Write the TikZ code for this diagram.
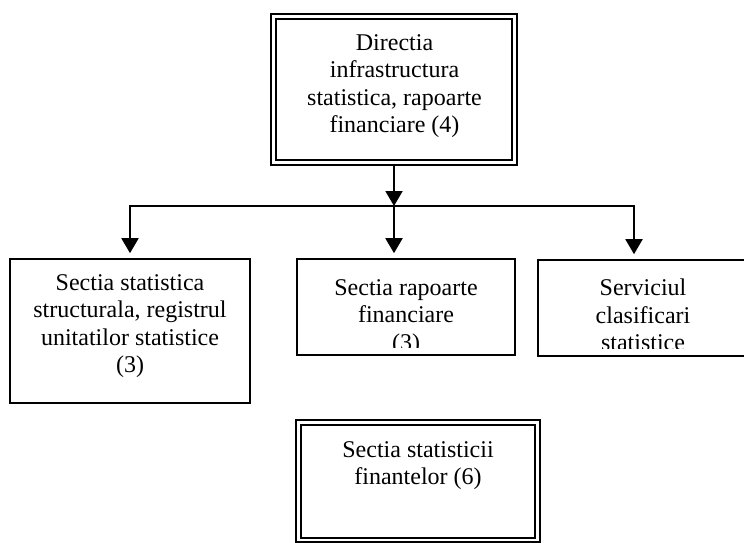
\documentclass[tikz,border=0pt]{standalone}
\usepackage{fontspec}
\setmainfont{Liberation Serif}
\usetikzlibrary{arrows.meta,positioning}
\tikzset{
  unit/.style={rectangle, draw=black, line width=1.6pt, fill=white, inner sep=0pt},
  dunit/.style={rectangle, draw=black, line width=2.2pt, double=white,
    double distance=2.2pt, inner sep=0pt},
  lbl/.style={anchor=north, align=center, inner sep=0pt,
    font=\fontsize{24}{27.5}\selectfont},
  link/.style={line width=1.9pt, draw=black},
  down/.style={link, -{Triangle[length=15pt, width=17pt]}},
}

\begin{document}
\begin{tikzpicture}[x=1pt, y=-1pt]
  \useasboundingbox (0,0) rectangle (744,542);
  % boxes
  \node[dunit, minimum width=241pt, minimum height=146pt] (dir) at (394,89.5) {};
  \node[unit, minimum width=240pt, minimum height=144pt] (struct) at (130,331) {};
  \node[unit, minimum width=218pt, minimum height=96pt] (rap) at (406,307) {};
  \node[unit, minimum width=210pt, minimum height=96pt] (clas) at (643,308) {};
  \node[dunit, minimum width=239pt, minimum height=117.5pt] (fin) at (418,481.25) {};
  % texts
  \node[lbl] (dirtxt) at (394.5,34) {Directia\\infrastructura\\statistica, rapoarte\\financiare (4)};
  \node[lbl] (structtxt) at (130,274) {Sectia statistica\\structurala, registrul\\unitatilor statistice\\(3)};
  \begin{scope}
    \clip ([yshift=8pt]rap.south west) rectangle (rap.north east);
    \node[lbl] (raptxt) at (406,279) {Sectia rapoarte\\financiare\\(3)};
  \end{scope}
  \begin{scope}
    \clip ([yshift=8pt]clas.south west) rectangle (clas.north east);
    \node[lbl] (clastxt) at (643,279) {Serviciul\\clasificari\\statistice};
  \end{scope}
  \node[lbl] (fintxt) at (418,441) {Sectia statisticii\\finantelor (6)};
  % connectors
  \coordinate (hub) at (394,206);
  \coordinate (jl) at (130,206);
  \coordinate (jr) at (634,206);
  \draw[down] (dir) -- (hub);
  \draw[down, shorten >=5pt] (hub) -- (jl) -- (jl |- struct.north);
  \draw[down, shorten >=5pt] (hub) -- (jr) -- (jr |- clas.north);
  \draw[down, shorten >=5pt] (hub) -- (hub |- rap.north);
\end{tikzpicture}
\end{document}
